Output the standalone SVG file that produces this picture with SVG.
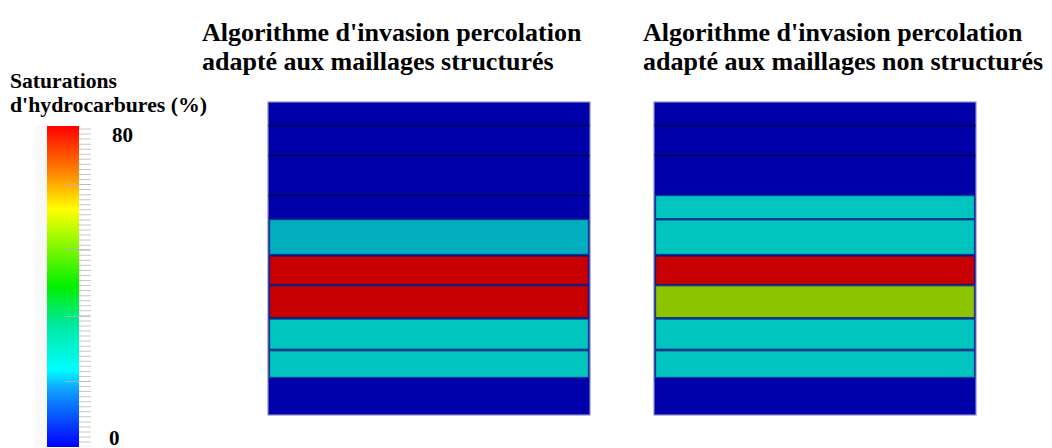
<svg xmlns="http://www.w3.org/2000/svg" width="1052" height="448" viewBox="0 0 1052 448">
<style>
.t{font-family:"Liberation Serif","Times New Roman",serif;font-weight:bold;fill:#000}
.title{font-size:26px}
.leg{font-size:21px}
.bg{fill:#0000AA;stroke:#8C8CC8;stroke-width:1.2}
.sep{stroke:#00004A;stroke-width:1.5}
.cy1{fill:#00AEBE;stroke:#0A3C8C;stroke-width:1.3}
.cy{fill:#00C4BE;stroke:#0A3C8C;stroke-width:1.3}
.rd{fill:#C80000;stroke:#1A1A7A;stroke-width:1.3}
.gr{fill:#8CC400;stroke:#1A3C7A;stroke-width:1.3}
</style>
<defs>
<linearGradient id="jet" x1="0" y1="0" x2="0" y2="1">
<stop offset="0" stop-color="#FF0000"/>
<stop offset="0.14" stop-color="#FF8000"/>
<stop offset="0.26" stop-color="#FFFF00"/>
<stop offset="0.5" stop-color="#00F000"/>
<stop offset="0.62" stop-color="#00E8A0"/>
<stop offset="0.76" stop-color="#00FFFF"/>
<stop offset="0.82" stop-color="#10A0FF"/>
<stop offset="1" stop-color="#0000FF"/>
</linearGradient>
</defs>
<rect width="1052" height="448" fill="#FFFFFF"/>

<g id="titles">
<text class="t title" x="202" y="41">Algorithme d'invasion percolation</text>
<text class="t title" x="202" y="70">adapté aux maillages structurés</text>
<text class="t title" x="643" y="41">Algorithme d'invasion percolation</text>
<text class="t title" x="643" y="70">adapté aux maillages non structurés</text>
</g>

<g id="legend">
<text class="t leg" x="10" y="88" textLength="107" lengthAdjust="spacingAndGlyphs">Saturations</text>
<text class="t leg" x="10" y="112" textLength="197" lengthAdjust="spacingAndGlyphs">d'hydrocarbures (%)</text>
<rect x="35" y="126" width="12" height="321" fill="#F9F9F9"/>
<rect x="47" y="126" width="32" height="321" fill="url(#jet)"/>
<line x1="85" y1="128.5" x2="85" y2="447" stroke="#C8C8C8" stroke-width="12" stroke-dasharray="1 4.05"/>
<g stroke="#B4B4C8" stroke-width="1" opacity="0.8">
<line x1="65" y1="184.5" x2="90" y2="184.5"/>
<line x1="65" y1="249.5" x2="90" y2="249.5"/>
<line x1="65" y1="316.5" x2="90" y2="316.5"/>
<line x1="65" y1="381.5" x2="90" y2="381.5"/>
</g>
<text class="t leg" x="112" y="142">80</text>
<text class="t leg" x="109" y="445">0</text>
</g>

<g id="mesh-structured">
<rect class="bg" x="268" y="102" width="322" height="313"/>
<line class="sep" x1="268.5" y1="125.5" x2="589.5" y2="125.5"/>
<line class="sep" x1="268.5" y1="155.5" x2="589.5" y2="155.5"/>
<line class="sep" x1="268.5" y1="195.5" x2="589.5" y2="195.5"/>
<rect class="cy1" x="269.5" y="219.5" width="319" height="35"/>
<rect class="rd" x="269.5" y="256" width="319" height="28.5"/>
<rect class="rd" x="269.5" y="285.7" width="319" height="32"/>
<rect class="cy" x="269.5" y="319" width="319" height="30.3"/>
<rect class="cy" x="269.5" y="350.7" width="319" height="26.8"/>
</g>

<g id="mesh-unstructured">
<rect class="bg" x="654" y="102" width="322" height="313"/>
<line class="sep" x1="654.5" y1="125.5" x2="975.5" y2="125.5"/>
<line class="sep" x1="654.5" y1="155.5" x2="975.5" y2="155.5"/>
<rect class="cy" x="655.5" y="195.5" width="319" height="23.2"/>
<rect class="cy" x="655.5" y="219.8" width="319" height="34.7"/>
<rect class="rd" x="655.5" y="256" width="319" height="28.5"/>
<rect class="gr" x="655.5" y="285.7" width="319" height="32"/>
<rect class="cy" x="655.5" y="319" width="319" height="30.3"/>
<rect class="cy" x="655.5" y="350.7" width="319" height="26.8"/>
</g>

<g id="connectors"></g>
</svg>
